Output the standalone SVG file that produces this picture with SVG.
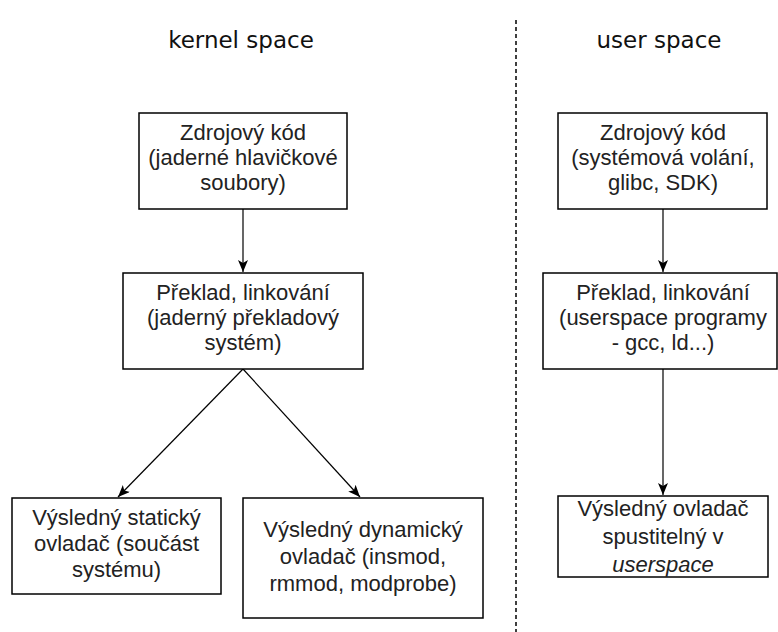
<svg xmlns="http://www.w3.org/2000/svg" width="778" height="632" viewBox="0 0 778 632">
<defs>
<style>
.box{fill:#fff;stroke:#000;stroke-width:1.5}
.t{font-family:"Liberation Sans",Arial,sans-serif;font-size:22px;fill:#222;text-anchor:middle}
.h{font-family:"DejaVu Sans",sans-serif;font-size:23px;fill:#111;text-anchor:middle}
.c{fill:none;stroke:#000;stroke-width:1.2}
</style>
<marker id="ah" markerUnits="userSpaceOnUse" markerWidth="14" markerHeight="12" refX="12" refY="5" orient="auto">
<path d="M0,0 L12,5 L0,10 L3,5 Z" fill="#000"/>
</marker>
</defs>
<rect width="778" height="632" fill="#fff"/>
<g id="titles">
<text class="h" x="241" y="48">kernel space</text>
<text class="h" x="659" y="48">user space</text>
</g>
<g id="divider">
<line x1="516" y1="20" x2="516" y2="632" stroke="#000" stroke-width="1.5" stroke-dasharray="4 3"/>
</g>
<g id="connectors">
<line class="c" x1="243" y1="209" x2="243" y2="272" marker-end="url(#ah)"/>
<line class="c" x1="243" y1="369" x2="118" y2="497" marker-end="url(#ah)"/>
<line class="c" x1="243" y1="369" x2="360" y2="497" marker-end="url(#ah)"/>
<line class="c" x1="663" y1="209" x2="663" y2="272" marker-end="url(#ah)"/>
<line class="c" x1="663" y1="369" x2="663" y2="495" marker-end="url(#ah)"/>
</g>
<g id="k-src">
<rect class="box" x="139" y="113" width="208" height="96"/>
<text class="t" x="243" y="140">Zdrojový kód</text>
<text class="t" x="243" y="165">(jaderné hlavičkové</text>
<text class="t" x="243" y="190">soubory)</text>
</g>
<g id="k-build">
<rect class="box" x="123" y="273" width="240" height="96"/>
<text class="t" x="243" y="300">Překlad, linkování</text>
<text class="t" x="243" y="325">(jaderný překladový</text>
<text class="t" x="243" y="350">systém)</text>
</g>
<g id="k-static">
<rect class="box" x="12" y="498" width="209" height="96"/>
<text class="t" x="116.5" y="525">Výsledný statický</text>
<text class="t" x="116.5" y="551">ovladač (součást</text>
<text class="t" x="116.5" y="577">systému)</text>
</g>
<g id="k-dynamic">
<rect class="box" x="243" y="498" width="240" height="120"/>
<text class="t" x="363" y="537">Výsledný dynamický</text>
<text class="t" x="363" y="564">ovladač (insmod,</text>
<text class="t" x="363" y="591">rmmod, modprobe)</text>
</g>
<g id="u-src">
<rect class="box" x="558" y="113" width="209" height="96"/>
<text class="t" x="663" y="140">Zdrojový kód</text>
<text class="t" x="663" y="165">(systémová volání,</text>
<text class="t" x="663" y="190">glibc, SDK)</text>
</g>
<g id="u-build">
<rect class="box" x="543" y="273" width="234" height="96"/>
<text class="t" x="663" y="300">Překlad, linkování</text>
<text class="t" x="663" y="325">(userspace programy</text>
<text class="t" x="663" y="350">- gcc, ld...)</text>
</g>
<g id="u-result">
<rect class="box" x="558" y="496" width="210" height="81"/>
<text class="t" x="663" y="516">Výsledný ovladač</text>
<text class="t" x="663" y="544">spustitelný v</text>
<text class="t" x="663" y="572" font-style="italic">userspace</text>
</g>
</svg>
